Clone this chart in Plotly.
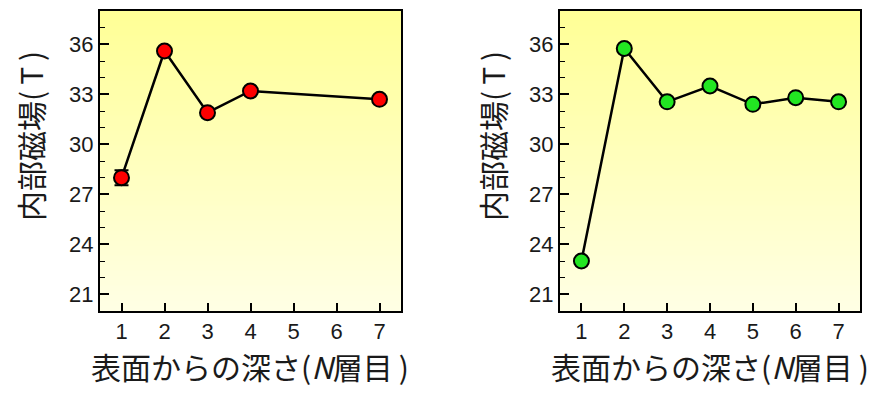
import plotly.graph_objects as go

# ---- data ----
left_layers = [1, 2, 3, 4, 7]
left_field = [28.0, 35.6, 31.9, 33.2, 32.7]
left_err = [0.45, 0.2, 0.15, 0.15, 0.15]

right_layers = [1, 2, 3, 4, 5, 6, 7]
right_field = [23.0, 35.75, 32.55, 33.5, 32.4, 32.8, 32.55]

x_ticks = [1, 2, 3, 4, 5, 6, 7]
y_ticks = [21, 24, 27, 30, 33, 36]

x_title = "表面からの深さ(<i>N</i>層目\u2009)"
y_title = "内部磁場(\u2009T\u2009)"

W, H = 882, 397
fig = go.Figure()

fig.add_trace(go.Scatter(
    x=left_layers, y=left_field, mode="lines+markers",
    line=dict(color="black", width=2.5),
    marker=dict(size=15, color="#FF0000", line=dict(color="black", width=2)),
    error_y=dict(type="data", array=left_err, color="black", thickness=2, width=7),
    xaxis="x", yaxis="y", showlegend=False,
))
fig.add_trace(go.Scatter(
    x=right_layers, y=right_field, mode="lines+markers",
    line=dict(color="black", width=2.5),
    marker=dict(size=15, color="#22E622", line=dict(color="black", width=2)),
    xaxis="x2", yaxis="y2", showlegend=False,
))

tickfont = dict(family="Liberation Sans, Arial, sans-serif", size=22, color="#1a1a1a")
titlefont = dict(family="Noto Sans CJK JP, sans-serif", size=30, color="#1a1a1a")

def xaxis_def(domain, anchor):
    return dict(
        domain=domain, anchor=anchor, range=[0.5, 7.5],
        tickmode="array", tickvals=x_ticks, ticks="inside", ticklen=8,
        tickwidth=1.5, tickcolor="black", tickfont=tickfont,
        showline=True, linecolor="black", linewidth=2, mirror=True,
        showgrid=False, zeroline=False, fixedrange=True,
    )

def yaxis_def(domain, anchor):
    return dict(
        domain=domain, anchor=anchor, range=[20, 38],
        tickmode="array", tickvals=y_ticks, ticks="inside", ticklen=9,
        tickwidth=1.5, tickcolor="black", tickfont=tickfont,
        minor=dict(dtick=1, ticks="inside", ticklen=5, tickwidth=1.2, tickcolor="black"),
        showline=True, linecolor="black", linewidth=2, mirror=True,
        showgrid=False, zeroline=False, fixedrange=True,
    )

ydom = [1 - 311 / H, 1 - 11 / H]
fig.update_layout(
    width=W, height=H,
    margin=dict(l=0, r=0, t=0, b=0),
    paper_bgcolor="white", plot_bgcolor="rgba(0,0,0,0)",
    xaxis=xaxis_def([100 / W, 401 / W], "y"),
    yaxis=yaxis_def(ydom, "x"),
    xaxis2=xaxis_def([560 / W, 860 / W], "y2"),
    yaxis2=yaxis_def(ydom, "x2"),
)

# axis titles as annotations (positioned like the original)
annotations = []
for cx in (250 / W, 710 / W):
    annotations.append(dict(
        text=x_title, xref="paper", yref="paper", x=cx, y=1 - 366 / H,
        xanchor="center", yanchor="middle", showarrow=False, font=titlefont,
    ))
for cx in (30 / W, 492 / W):
    annotations.append(dict(
        text=y_title, xref="paper", yref="paper", x=cx, y=1 - 136 / H,
        xanchor="center", yanchor="middle", showarrow=False, font=titlefont,
        textangle=-90,
    ))
fig.update_layout(annotations=annotations)

# vertical yellow gradient background behind each plot area
n = 60
top = (255, 255, 150)
bot = (255, 255, 228)
shapes = []
for xr, yr in (("x domain", "y domain"), ("x2 domain", "y2 domain")):
    for i in range(n):
        t = i / (n - 1)
        c = tuple(round(top[k] + (bot[k] - top[k]) * t) for k in range(3))
        shapes.append(dict(
            type="rect", xref=xr, yref=yr, layer="below",
            x0=0, x1=1, y0=1 - (i + 1) / n, y1=1 - i / n + 0.002,
            fillcolor="rgb(%d,%d,%d)" % c, line=dict(width=0),
        ))
fig.update_layout(shapes=shapes)

fig.write_html("out.html", config={"displayModeBar": False},
               post_script="document.body.style.margin='0';")
